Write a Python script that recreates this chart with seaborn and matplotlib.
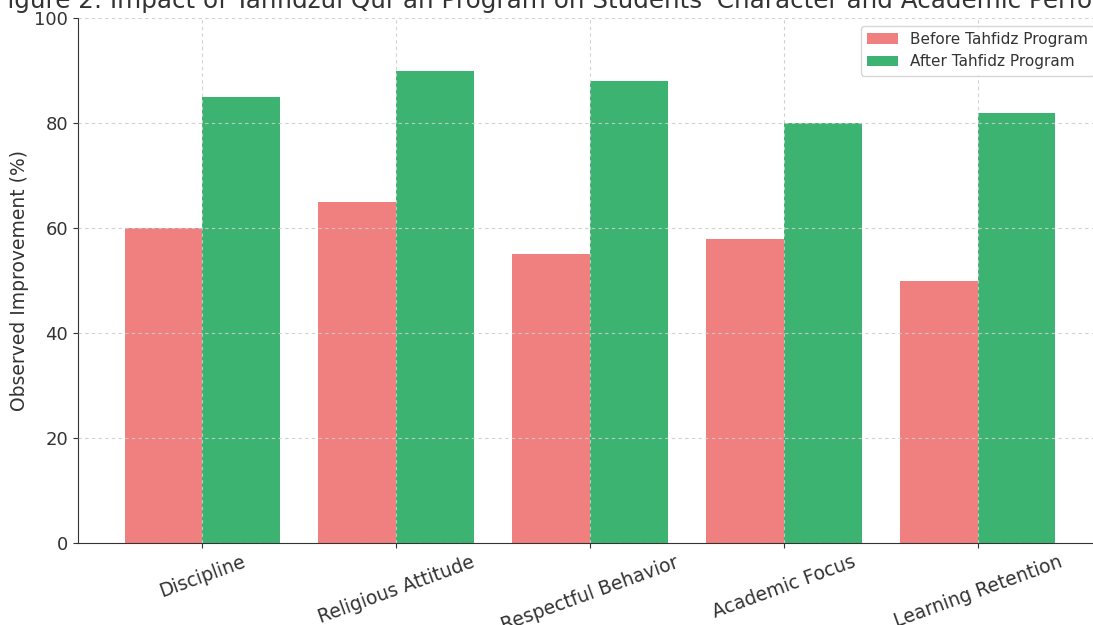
import pandas as pd
import matplotlib
matplotlib.use("Agg")
import matplotlib.pyplot as plt
import seaborn as sns

# chart data
categories = ["Discipline", "Religious Attitude", "Respectful Behavior",
              "Academic Focus", "Learning Retention"]
before_values = [60, 65, 55, 58, 50]
after_values = [85, 90, 88, 80, 82]
series_names = ["Before Tahfidz Program", "After Tahfidz Program"]

df = pd.DataFrame({
    "Aspect": categories * 2,
    "Score": before_values + after_values,
    "Stage": [series_names[0]] * len(categories) + [series_names[1]] * len(categories),
})

sns.set_style("ticks")
plt.rcParams["font.family"] = ["DejaVu Sans"]
plt.rcParams["text.color"] = "#333333"
plt.rcParams["axes.labelcolor"] = "#333333"
plt.rcParams["xtick.color"] = "#333333"
plt.rcParams["ytick.color"] = "#333333"
plt.rcParams["axes.edgecolor"] = "#333333"

fig = plt.figure(figsize=(10.93, 6.25), dpi=100)
# the original figure was cropped on the top and right, so the axes run past the canvas
ax = fig.add_axes([78 / 1093, 82 / 625, 1024 / 1093, 525 / 625])

sns.barplot(data=df, x="Aspect", y="Score", hue="Stage",
            palette=["lightcoral", "mediumseagreen"], width=0.8,
            saturation=1, linewidth=0, ax=ax)

ax.set_xlim(-0.64, 4.64)
ax.set_ylim(0, 100)
ax.grid(True, linestyle=(0, (3, 3)), color="#cccccc", alpha=0.9, linewidth=0.8)
ax.set_axisbelow(False)
ax.spines["top"].set_visible(False)
ax.spines["right"].set_visible(False)

ax.set_xlabel("")
ax.set_ylabel("Observed Improvement (%)", fontsize=13.5)
ax.tick_params(axis="y", labelsize=13)
ax.tick_params(axis="x", labelsize=13.5)
plt.setp(ax.get_xticklabels(), rotation=20, ha="center")

ax.set_title("Figure 2: Impact of Tahfidzul Qur'an Program on Students' Character and Academic Performance",
             fontsize=17.7, pad=7)

leg = ax.legend(title=None, fontsize=11, loc="upper right")
leg.get_frame().set_edgecolor("#cccccc")

fig.savefig("out.png", dpi=100)
